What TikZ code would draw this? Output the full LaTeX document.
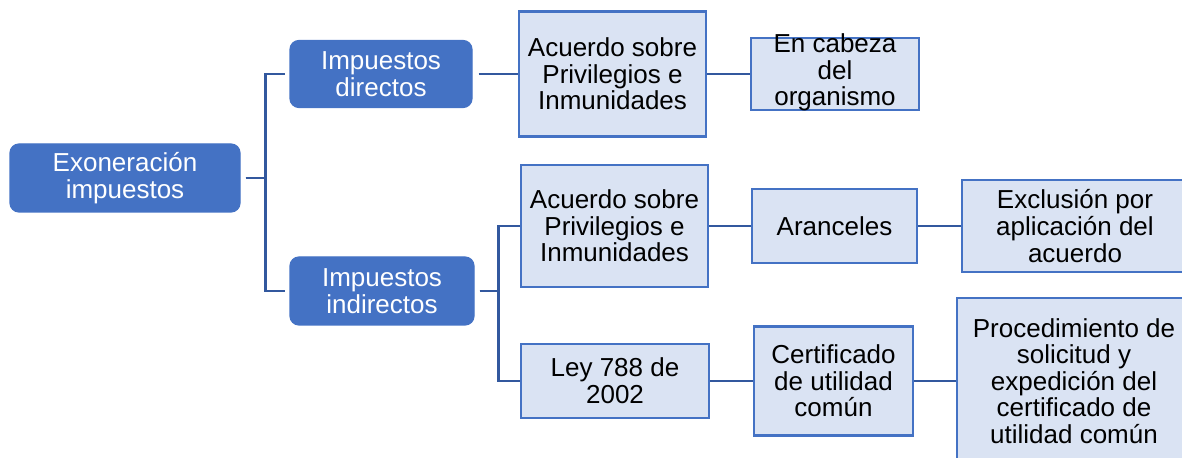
\documentclass[tikz,border=0pt]{standalone}
\usepackage{fontspec}
\setmainfont{Liberation Sans}
\definecolor{dblue}{RGB}{68,114,196}
\definecolor{lblue}{RGB}{218,227,243}
\definecolor{cblue}{RGB}{50,88,158}
\tikzset{
  every node/.style={font=\fontsize{13}{13.3}\selectfont, align=center, inner sep=0pt},
  darkbox/.style={fill=dblue, draw=dblue, line width=0.6pt, rounded corners=4.5pt, text=white},
  lightbox/.style={fill=lblue, draw=dblue, line width=1.2pt, text=black},
  conn/.style={draw=cblue, line width=1.2pt},
}
\begin{document}
\begin{tikzpicture}[x=0.5pt, y=-0.5pt]
\useasboundingbox (0,0) rectangle (1182,458);
\clip (0,0) rectangle (1182,458);
% level 0 and 1
\node[darkbox, minimum width=115pt, minimum height=34pt] (root) at (125,178) {Exoneración\\impuestos};
\node[darkbox, minimum width=91pt, minimum height=33.5pt] (dir) at (381,74) {Impuestos\\directos};
\node[darkbox, minimum width=92pt, minimum height=34pt] (ind) at (382,291) {Impuestos\\indirectos};
% directos branch
\node[lightbox, minimum width=93.5pt, minimum height=62.5pt] (acu1) at (612.5,74) {Acuerdo sobre\\Privilegios e\\Inmunidades};
\node[lightbox, minimum width=84pt, minimum height=36pt] (cab) at (835,74) {};
\node[text=black] (cabt) at (835,72.5) {En cabeza\\del\\organismo};
% indirectos branch
\node[lightbox, minimum width=93.5pt, minimum height=61pt] (acu2) at (614.5,226) {Acuerdo sobre\\Privilegios e\\Inmunidades};
\node[lightbox, minimum width=82.5pt, minimum height=37pt] (ara) at (834.5,226) {Aranceles};
\node[lightbox, minimum width=113pt, minimum height=46pt] (exc) at (1075,226) {Exclusión por\\aplicación del\\acuerdo};
\node[lightbox, minimum width=94pt, minimum height=37pt] (ley) at (615,381) {Ley 788 de\\2002};
\node[lightbox, minimum width=79.5pt, minimum height=54.5pt] (cert) at (833.5,381) {Certificado\\de utilidad\\común};
\node[lightbox, minimum width=117pt, minimum height=83pt] (proc) at (1074,381) {Procedimiento de\\solicitud y\\expedición del\\certificado de\\utilidad común};
% connectors
\draw[conn, shorten <=2.5pt, shorten >=2pt] (root.east) -- ++(25,0) |- (dir.west);
\draw[conn, shorten <=2.5pt, shorten >=2pt] (root.east) -- ++(25,0) |- (ind.west);
\draw[conn, shorten <=3pt] (dir.east) -- (acu1.west);
\draw[conn] (acu1.east) -- (cab.west);
\draw[conn, shorten <=2.5pt] (ind.east) -- ++(24,0) |- (acu2.west);
\draw[conn, shorten <=2.5pt] (ind.east) -- ++(24,0) |- (ley.west);
\draw[conn] (acu2.east) -- (ara.west);
\draw[conn] (ara.east) -- (exc.west);
\draw[conn] (ley.east) -- (cert.west);
\draw[conn] (cert.east) -- (proc.west);
\end{tikzpicture}
\end{document}
